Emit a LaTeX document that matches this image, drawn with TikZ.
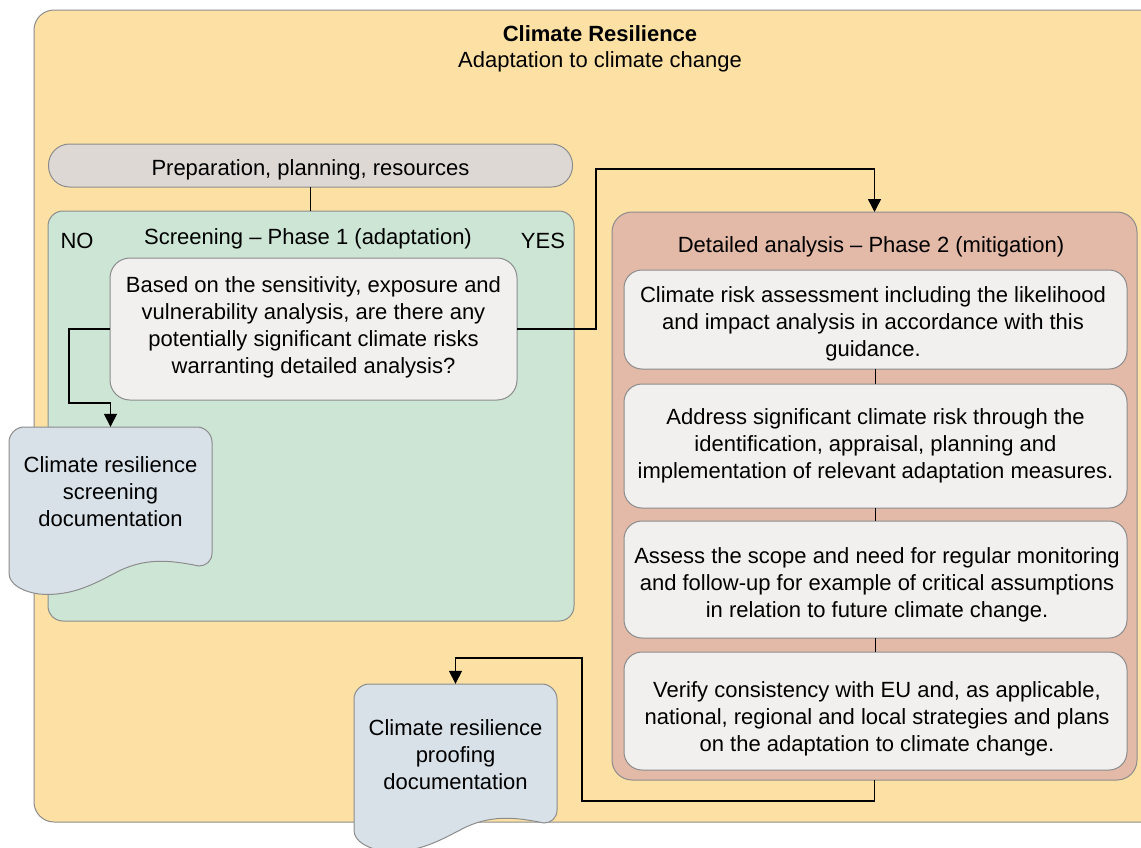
\documentclass[tikz,border=0pt]{standalone}
\usepackage{fontspec}
\setmainfont{Liberation Sans}
\usetikzlibrary{arrows.meta,calc}
\definecolor{outerfill}{HTML}{FDE1A4}
\definecolor{prepfill}{HTML}{DDD8D4}
\definecolor{greenfill}{HTML}{CCE5D4}
\definecolor{boxfill}{HTML}{F1F0EF}
\definecolor{docfill}{HTML}{D8E1E8}
\definecolor{redfill}{HTML}{E3B9A8}
\definecolor{bordergray}{HTML}{8C8C8C}
\tikzset{
  txt/.style={font=\fontsize{22}{27}\selectfont, align=center, inner sep=0pt},
  panel/.style={draw=bordergray, line width=1pt, outer sep=0pt, inner sep=0pt},
  conn/.style={draw=black, line width=1.5pt},
  arr/.style={conn, -{Triangle[length=13pt,width=13pt]}},
  thinconn/.style={draw=black, line width=1pt},
  docstyle/.style={draw=bordergray, line width=1pt, fill=docfill},
}
\newcommand{\mydocshape}[2]{%
  \begin{scope}[shift={(#1,#2)}]
    \path[docstyle] (0,146) -- (0,15) .. controls (0,7) and (7,0) .. (15,0)
      -- (188,0) .. controls (196,0) and (203,7) .. (203,15)
      -- (203,126) .. controls (203,134) and (197,139) .. (190,139)
      .. controls (165,134) and (140,130) .. (112,143)
      .. controls (88,155) and (65,170) .. (30,167)
      .. controls (15,165) and (0,158) .. (0,146) -- cycle;
  \end{scope}}
\begin{document}
\begin{tikzpicture}[x=1pt,y=-1pt]
\useasboundingbox (0,0) rectangle (1141,847);
\clip (0,0) rectangle (1141,847);
% outer frame
\node[panel, fill=outerfill, rounded corners=20pt, minimum width=1130pt, minimum height=812pt, anchor=north west] (outer) at (34,10) {};
\node[txt, font=\fontsize{22}{27}\selectfont\bfseries] (title) at (600,34) {Climate Resilience};
\node[txt] (subtitle) at (600,62) {Adaptation to climate change};
% preparation
\node[panel, fill=prepfill, rounded corners=21pt, minimum width=524pt, minimum height=43pt] (prep) at (310.5,165.5) {};
\node[txt] (preptext) at (310.5,170) {Preparation, planning, resources};
% screening panel
\node[panel, fill=greenfill, rounded corners=15pt, minimum width=526pt, minimum height=410pt, anchor=north west] (green) at (48,211) {};
\node[txt] (no) at (77,241) {NO};
\node[txt] (scrtitle) at (308,239) {Screening -- Phase 1 (adaptation)};
\node[txt] (yes) at (543,241) {YES};
\node[panel, fill=boxfill, rounded corners=20pt, minimum width=407pt, minimum height=142pt] (q) at (313.5,329) {};
\node[txt] (qtext) at (313.5,327.5) {Based on the sensitivity, exposure and\\vulnerability analysis, are there any\\potentially significant climate risks\\warranting detailed analysis?};
% detailed panel
\node[panel, fill=redfill, rounded corners=20pt, minimum width=525pt, minimum height=568pt, anchor=north west] (red) at (612,212) {};
\node[txt] (redtitle) at (871,246.5) {Detailed analysis -- Phase 2 (mitigation)};
\node[panel, fill=boxfill, rounded corners=18pt, minimum width=503pt, minimum height=99pt] (b1) at (875.5,319.5) {};
\node[txt] (b1text) at (873,323.5) {Climate risk assessment including the likelihood\\and impact analysis in accordance with this\hspace*{28pt}\\guidance.};
\node[panel, fill=boxfill, rounded corners=18pt, minimum width=503pt, minimum height=124pt] (b2) at (875.5,446) {};
\node[txt] (b2text) at (875.5,445.5) {Address significant climate risk through the\\identification, appraisal, planning and\\implementation of relevant adaptation measures.};
\node[panel, fill=boxfill, rounded corners=18pt, minimum width=503pt, minimum height=117pt] (b3) at (875.5,579.5) {};
\node[txt] (b3text) at (877,584.5) {Assess the scope and need for regular monitoring\\and follow-up for example of critical assumptions\\in relation to future climate change.};
\node[panel, fill=boxfill, rounded corners=18pt, minimum width=503pt, minimum height=118pt] (b4) at (875.5,711) {};
\node[txt] (b4text) at (877,719) {Verify consistency with EU and, as applicable,\\national, regional and local strategies and plans\\on the adaptation to climate change.};
\draw[thinconn] (b1.south) -- (b2.north);
\draw[thinconn] (b2.south) -- (b3.north);
\draw[thinconn] (b3.south) -- (b4.north);
% documents
\mydocshape{9}{427}
\node[txt, minimum width=203pt, minimum height=130pt] (sdoc) at (110.5,492) {Climate resilience\\screening\\documentation};
\mydocshape{354}{684}
\node[txt, minimum width=203pt, minimum height=142pt] (pdoc) at (455.5,755) {Climate resilience\\proofing\\documentation};
% connectors
\draw[thinconn] (prep.south) -- (prep.south |- green.north);
\coordinate (nobend) at (69,403);
\draw[arr] (q.west) -| (nobend) -| (sdoc.north);
\coordinate (yesbend) at (596,169);
\draw[arr] (q.east) -| (yesbend) -| (red.north);
\coordinate (pbot) at (582,801);
\coordinate (ptop) at (582,658);
\draw[arr] (red.south) |- (pbot) -- (ptop) -| (pdoc.north);
\end{tikzpicture}
\end{document}
